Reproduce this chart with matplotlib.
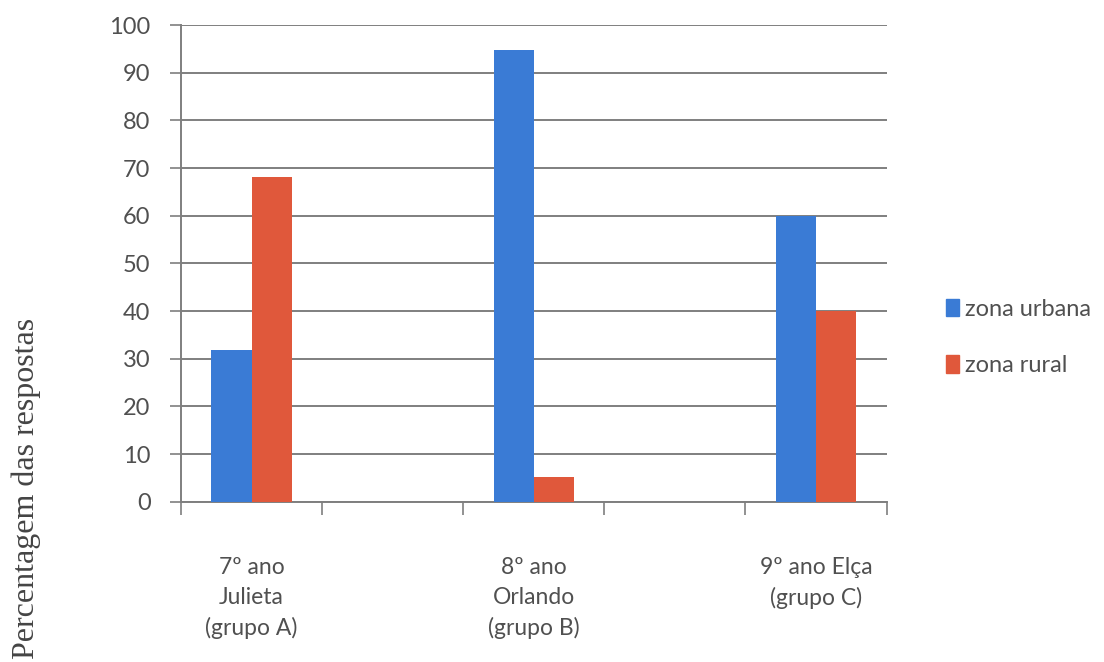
import numpy as np
import matplotlib
matplotlib.use("Agg")
import matplotlib.pyplot as plt
from matplotlib.patches import Patch

# Excel-style layout: 5 category slots, the 2nd and 4th left empty as spacers
categorias = ["7º ano\nJulieta\n(grupo A)", "", "8º ano\nOrlando\n(grupo B)", "", "9º ano Elça\n(grupo C)"]
zona_urbana = [31.8, np.nan, 94.8, np.nan, 60.0]
zona_rural = [68.2, np.nan, 5.2, np.nan, 40.0]
series = ["zona urbana", "zona rural"]
yticks = list(range(0, 101, 10))

AZUL = "#3a7bd5"
VERMELHO = "#e0583b"
CINZA = "#7f7f7f"
TEXTO = "#505050"

fig = plt.figure(figsize=(11.04, 6.62), dpi=100)
ax = fig.add_axes([0.164, 0.242, 0.639, 0.72])

x = np.arange(len(categorias))
w = 0.285
ax.bar(x - w / 2, zona_urbana, w, color=AZUL, zorder=3)
ax.bar(x + w / 2, zona_rural, w, color=VERMELHO, zorder=3)

ax.set_xlim(-0.5, len(categorias) - 0.5)
ax.set_ylim(0, 100)
ax.set_yticks(yticks)
ax.set_yticklabels([str(v) for v in yticks], fontsize=17, color=TEXTO, family="Lato")
ax.yaxis.grid(True, color=CINZA, linewidth=1.4, zorder=0)
ax.tick_params(axis="y", length=8, width=1.2, color=CINZA, pad=14)

# category ticks sit on the slot boundaries, labels at the slot centres
ax.set_xticks(np.arange(len(categorias) + 1) - 0.5)
ax.set_xticklabels([])
ax.tick_params(axis="x", length=9, width=1.2, color=CINZA)
for xi, lab in zip(x, categorias):
    if lab:
        ax.text(xi, -11.6, lab, ha="center", va="top", fontsize=16.5, color=TEXTO,
                family="Lato", linespacing=1.5)

for side in ["top", "right"]:
    ax.spines[side].set_visible(False)
for side in ["left", "bottom"]:
    ax.spines[side].set_color(CINZA)
    ax.spines[side].set_linewidth(1.4)

fig.text(0.010, 0.004, "Percentagem das respostas", rotation=90, ha="left", va="bottom",
         fontsize=23, color="#444444", family="Liberation Serif")

handles = [Patch(color=AZUL), Patch(color=VERMELHO)]
leg = fig.legend(handles, series, loc="center left", bbox_to_anchor=(0.838, 0.49),
                 frameon=False, handlelength=0.55, handleheight=0.75, handletextpad=0.25,
                 labelspacing=1.5, prop={"family": "Lato", "size": 17})
for t in leg.get_texts():
    t.set_color(TEXTO)

fig.savefig("out.png", dpi=100)
